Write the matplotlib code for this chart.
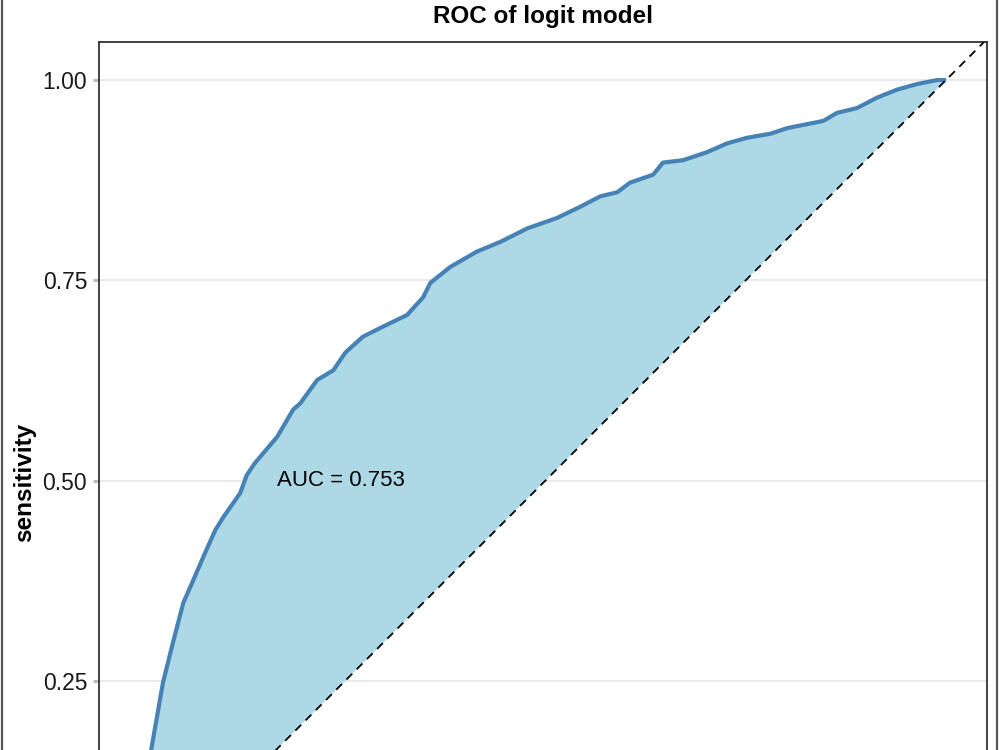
import matplotlib
matplotlib.use("Agg")
import matplotlib.pyplot as plt
from matplotlib.lines import Line2D

plt.rcParams['font.family'] = ['Liberation Sans', 'DejaVu Sans']

title = "ROC of logit model"
ylabel = "sensitivity"
auc_label = "AUC = 0.753"
yticks = [0.25, 0.5, 0.75, 1.0]
ytick_labels = ["0.25", "0.50", "0.75", "1.00"]

fpr = [0.0, 0.004, 0.009, 0.022, 0.024, 0.036, 0.049, 0.060, 0.076, 0.089, 0.099,
       0.120, 0.128, 0.138, 0.166, 0.186, 0.195, 0.216, 0.236, 0.251, 0.273,
       0.297, 0.328, 0.348, 0.357, 0.382, 0.415, 0.444, 0.478, 0.515, 0.544,
       0.569, 0.590, 0.606, 0.635, 0.647, 0.672, 0.702, 0.727, 0.752, 0.781,
       0.802, 0.847, 0.864, 0.889, 0.914, 0.939, 0.964, 0.989, 1.0]
tpr = [0.0, 0.08, 0.165, 0.239, 0.250, 0.298, 0.348, 0.373, 0.410, 0.439, 0.455,
       0.485, 0.507, 0.522, 0.555, 0.589, 0.597, 0.626, 0.638, 0.660, 0.680,
       0.692, 0.707, 0.729, 0.747, 0.767, 0.786, 0.798, 0.815, 0.828, 0.842,
       0.855, 0.860, 0.872, 0.882, 0.897, 0.900, 0.910, 0.921, 0.928, 0.933,
       0.940, 0.949, 0.959, 0.965, 0.978, 0.988, 0.995, 1.000, 1.0]

fig = plt.figure(figsize=(10, 7.5), dpi=100)
ax = fig.add_axes([0.099, -0.2293, 0.888, 1.1733])

ax.fill_between(fpr, fpr, tpr, color="#ADD8E6", linewidth=0, zorder=1)
ax.plot(fpr, tpr, color="#4682B4", linewidth=3.0, solid_capstyle='butt', zorder=3)
ax.axline((0, 0), (1, 1), color="black", linewidth=1.3, linestyle=(0, (4.5, 3.5)), zorder=4)

ax.text(0.245, 0.5, auc_label, fontsize=16, ha='center', va='center', color="black", zorder=5)

ax.set_xlim(-0.0561, 1.0511)
ax.set_ylim(-0.0499, 1.0474)
ax.set_yticks(yticks)
ax.set_yticklabels(ytick_labels, fontsize=16.5, color="#1a1a1a")
ax.set_xticks([])
ax.tick_params(axis='y', length=4.5, width=2.2, color="#BDBDBD", pad=4)
ax.grid(axis='y', color="#E3E3E3", linewidth=1.1, zorder=0)
ax.set_axisbelow(True)
for s in ax.spines.values():
    s.set_color("#333333")
    s.set_linewidth(1.3)

fig.text(0.543, 1 - 16 / 750, title, fontsize=17.5, fontweight='bold', ha='center', va='center')
fig.text(0.025, 1 - 482 / 750, ylabel, fontsize=17.5, fontweight='bold', rotation=90,
         ha='center', va='center')

fig.add_artist(Line2D([0.0015, 0.0015], [0, 1], transform=fig.transFigure, color="#555555", linewidth=1.6))
fig.add_artist(Line2D([0.9965, 0.9965], [0, 1], transform=fig.transFigure, color="#555555", linewidth=1.6))

fig.savefig("out.png", dpi=100)
